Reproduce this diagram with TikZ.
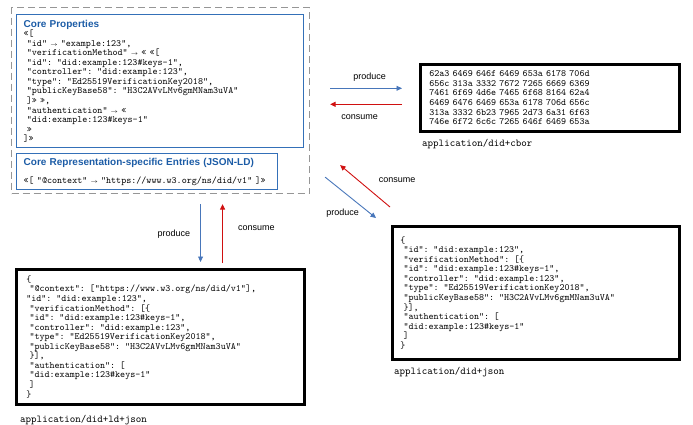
\documentclass[tikz,border=0pt]{standalone}
\usepackage{fontspec}
\newfontfamily\headfont{Liberation Sans}
\usetikzlibrary{arrows.meta, positioning, calc}
\definecolor{coreblue}{RGB}{52,112,184}
\definecolor{titleblue}{RGB}{28,92,166}
\definecolor{prodblue}{RGB}{72,118,186}
\definecolor{consred}{RGB}{208,16,16}
\definecolor{dashgray}{RGB}{150,150,150}
\newcommand\jsonfont{\fontsize{9.6}{9.55}\selectfont\ttfamily\lineskiplimit=-10pt}
\newcommand\mimefont{\fontsize{10.5}{12}\selectfont\ttfamily}
\newcommand\boxtitle[1]{{\headfont\bfseries\fontsize{10}{12}\selectfont\color{titleblue}#1}}
\newcommand\mapsarrow{{\fontsize{6}{6}\selectfont$\rightarrow$}}

\begin{document}
\begin{tikzpicture}[
  x=1pt, y=-1pt,
  outerbox/.style={rectangle, draw=dashgray, line width=1.1pt,
    dash pattern=on 7pt off 4pt, anchor=north west},
  bluebox/.style={rectangle, draw=coreblue, line width=1.4pt, align=left,
    anchor=north west, inner xsep=7pt, inner ysep=0pt, font=\jsonfont},
  blackbox/.style={rectangle, draw=black, line width=2.6pt, align=left,
    anchor=north west, inner xsep=9pt, inner ysep=0pt, font=\jsonfont},
  mime/.style={inner sep=0pt, font=\mimefont},
  lbl/.style={inner sep=1pt, font=\headfont\fontsize{9}{11}\selectfont},
  prod/.style={-{Triangle[length=5.5pt, width=5pt]}, line width=0.9pt, draw=prodblue},
  cons/.style={-{Triangle[length=5.5pt, width=5pt]}, line width=0.9pt, draw=consred}
]
\useasboundingbox (0,0) rectangle (693,424);

% abstract data model
\node[outerbox, minimum width=298pt, minimum height=186pt] (outer) at (11,7) {};
\node[bluebox, text width=273pt, minimum height=133pt] (core) at (16,14) {
  \boxtitle{Core Properties}\\
  «[\\
  ~"id" \mapsarrow{} "example:123",\\
  ~"verificationMethod" \mapsarrow{} « «[\\
  ~"id": "did:example:123\#keys-1",\\
  ~"controller": "did:example:123",\\
  ~"type": "Ed25519VerificationKey2018",\\
  ~"publicKeyBase58": "H3C2AVvLMv6gmMNam3uVA"\\
  ~]» »,\\
  ~"authentication" \mapsarrow{} «\\
  ~"did:example:123\#keys-1"\\
  ~»\\
  ]»
};
\node[bluebox, text width=247pt, minimum height=36pt] (ldentries) at (16,153) {
  \boxtitle{Core Representation-specific Entries (JSON-LD)}\\[8pt]
  «[ "@context" \mapsarrow{} "https://www.w3.org/ns/did/v1" ]»
};

% representations
\node[blackbox, text width=241pt, minimum height=67pt] (cbor) at (419,63) {
  62a3 6469 646f 6469 653a 6178 706d\\
  656c 313a 3332 7672 7265 6669 6369\\
  7461 6f69 4d6e 7465 6f68 8164 62a4\\
  6469 6476 6469 653a 6178 706d 656c\\
  313a 3332 6b23 7965 2d73 6a31 6f63\\
  746e 6f72 6c6c 7265 646f 6469 653a
};
\node[blackbox, inner xsep=8pt, text width=271pt, minimum height=133pt] (json) at (391,225) {
  \{\\
  ~"id": "did:example:123",\\
  ~"verificationMethod": [\{\\
  ~"id": "did:example:123\#keys-1",\\
  ~"controller": "did:example:123",\\
  ~"type": "Ed25519VerificationKey2018",\\
  ~"publicKeyBase58": "H3C2AVvLMv6gmMNam3uVA"\\
  ~\}],\\
  ~"authentication": [\\
  ~"did:example:123\#keys-1"\\
  ~]\\
  \}
};
\node[blackbox, inner xsep=10pt, text width=268pt, minimum height=135pt] (jsonld) at (15,268) {
  \{\\
  ~"@context": ["https://www.w3.org/ns/did/v1"],\\
  "id": "did:example:123",\\
  ~"verificationMethod": [\{\\
  ~"id": "did:example:123\#keys-1",\\
  ~"controller": "did:example:123",\\
  ~"type": "Ed25519VerificationKey2018",\\
  ~"publicKeyBase58": "H3C2AVvLMv6gmMNam3uVA"\\
  ~\}],\\
  ~"authentication": [\\
  ~"did:example:123\#keys-1"\\
  ~]\\
  \}
};

\node[mime, below right=6pt and 3pt of cbor.south west] (cbormime) {application/did+cbor};
\node[mime, below right=6pt and 3pt of json.south west] (jsonmime) {application/did+json};
\node[mime, below right=9pt and 5pt of jsonld.south west] (jsonldmime) {application/did+ld+json};

% produce / consume
\draw[prod, shorten <=20pt, shorten >=17pt] ($(outer.east |- cbor.west)+(0,9.5pt)$)
  -- node[lbl, above=5pt, xshift=5pt] {produce} ($(cbor.west)+(0,9.5pt)$);
\draw[cons, shorten <=17pt, shorten >=20pt] ($(cbor.west)+(0,-6.5pt)$)
  -- node[lbl, below=9pt, xshift=-5pt] {consume} ($(outer.east |- cbor.west)+(0,-6.5pt)$);

\draw[prod, shorten <=10pt, shorten >=6pt] ($(outer.south)+(40pt,0)$)
  -- node[lbl, left=9pt, yshift=-3pt] {produce} ($(outer.south |- jsonld.north)+(40pt,0)$);
\draw[cons, shorten <=5pt, shorten >=10pt] ($(outer.south |- jsonld.north)+(62pt,0)$)
  -- node[lbl, right=14pt, yshift=3pt] {consume} ($(outer.south)+(62pt,0)$);

\draw[cons] ($(json.north west)+(-1pt,18pt)$)
  -- node[lbl, xshift=32pt, yshift=6pt] {consume} ($(outer.south east)+(30pt,29pt)$);
\draw[prod] ($(outer.south east)+(15pt,17pt)$)
  -- node[lbl, xshift=-8pt, yshift=-16pt] {produce} ($(json.north west)+(-15pt,7pt)$);
\end{tikzpicture}
\end{document}
